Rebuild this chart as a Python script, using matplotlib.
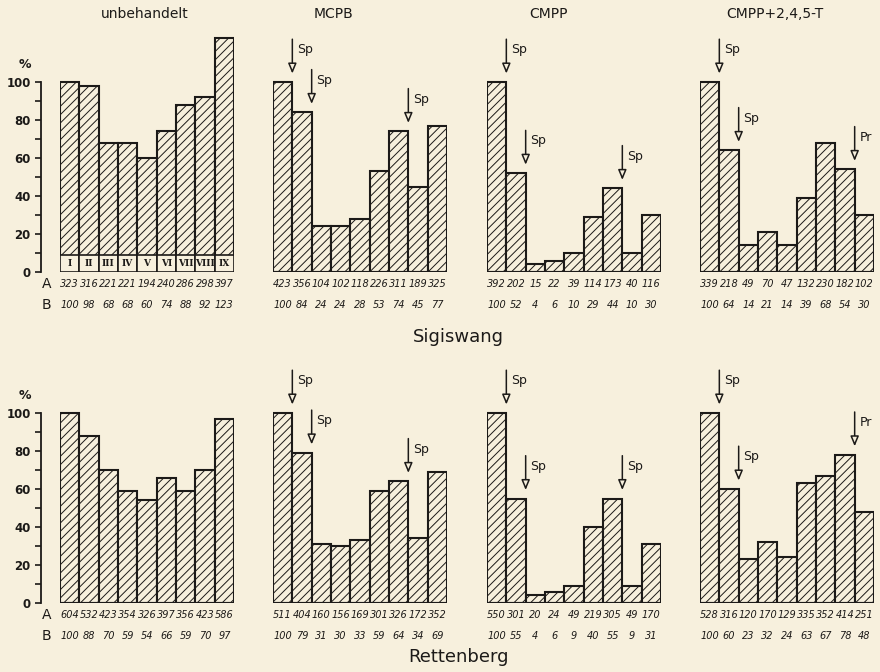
import matplotlib.pyplot as plt
import numpy as np

groups = ["unbehandelt", "MCPB", "CMPP", "CMPP+2,4,5-T"]
sites = ["Sigiswang", "Rettenberg"]
roman = ["I", "II", "III", "IV", "V", "VI", "VII", "VIII", "IX"]

# Sigiswang: A = Anzahl, B = Prozent
sig_A = [
    [323, 316, 221, 221, 194, 240, 286, 298, 397],
    [423, 356, 104, 102, 118, 226, 311, 189, 325],
    [392, 202, 15, 22, 39, 114, 173, 40, 116],
    [339, 218, 49, 70, 47, 132, 230, 182, 102],
]
sig_B = [
    [100, 98, 68, 68, 60, 74, 88, 92, 123],
    [100, 84, 24, 24, 28, 53, 74, 45, 77],
    [100, 52, 4, 6, 10, 29, 44, 10, 30],
    [100, 64, 14, 21, 14, 39, 68, 54, 30],
]
# Rettenberg
ret_A = [
    [604, 532, 423, 354, 326, 397, 356, 423, 586],
    [511, 404, 160, 156, 169, 301, 326, 172, 352],
    [550, 301, 20, 24, 49, 219, 305, 49, 170],
    [528, 316, 120, 170, 129, 335, 352, 414, 251],
]
ret_B = [
    [100, 88, 70, 59, 54, 66, 59, 70, 97],
    [100, 79, 31, 30, 33, 59, 64, 34, 69],
    [100, 55, 4, 6, 9, 40, 55, 9, 31],
    [100, 60, 23, 32, 24, 63, 67, 78, 48],
]
# Behandlungstermine (Balken-Index, Kürzel)
marks = [
    [],
    [(0, "Sp"), (1, "Sp"), (6, "Sp")],
    [(0, "Sp"), (1, "Sp"), (6, "Sp")],
    [(0, "Sp"), (1, "Sp"), (7, "Pr")],
]

paper = "#f7f0dd"
ink = "#1c1a18"
plt.rcParams["hatch.linewidth"] = 0.7
plt.rcParams["hatch.color"] = ink
plt.rcParams["font.family"] = "DejaVu Sans"

fig = plt.figure(figsize=(8.8, 6.72), dpi=100, facecolor=paper)

W, H = 880, 672
panel_x = [(60, 234), (273, 447), (487, 661), (700, 874)]
title_x = [145, 333, 548, 775]
row_y0 = [272, 603]      # pixel of 0 %
ppu = 1.9                # pixel per %
ytop = 127

site_data = [(sig_A, sig_B), (ret_A, ret_B)]
x = np.arange(9)

for r, (A, B) in enumerate(site_data):
    y0 = row_y0[r]
    for g in range(4):
        x0, x1 = panel_x[g]
        ax = fig.add_axes([x0 / W, 1 - y0 / H, (x1 - x0) / W, ytop * ppu / H])
        ax.set_facecolor("none")
        ax.bar(x, B[g], width=1.0, color=paper, edgecolor=ink, linewidth=1.5,
               hatch="////", zorder=2)
        ax.set_xlim(-0.5, 8.5)
        ax.set_ylim(0, ytop)
        for s in ["top", "right", "bottom"]:
            ax.spines[s].set_visible(False)
        ax.set_xticks([])
        if g == 0:
            ax.spines["left"].set_position(("outward", 14))
            ax.spines["left"].set_bounds(0, 100)
            ax.spines["left"].set_linewidth(1.3)
            ax.spines["left"].set_color(ink)
            ax.set_yticks(np.arange(0, 101, 20))
            ax.set_yticks(np.arange(10, 100, 20), minor=True)
            ax.tick_params(axis="y", which="both", length=4, width=1.2,
                           colors=ink, labelsize=8.5, pad=3)
            for lab in ax.get_yticklabels():
                lab.set_fontweight("bold")
            ax.text(-0.2, 109, "%", transform=ax.get_yaxis_transform(),
                    ha="center", va="center", fontsize=9, fontweight="bold",
                    color=ink)
            ax.text(-1.2, -6.5, "A", ha="center", va="center", fontsize=10,
                    color=ink)
            ax.text(-1.2, -17.5, "B", ha="center", va="center", fontsize=10,
                    color=ink)
        else:
            ax.spines["left"].set_visible(False)
            ax.set_yticks([])
        ax.axhline(0, color=ink, linewidth=1.5, zorder=3)

        for i in range(9):
            ax.text(x[i], -6.5, str(A[g][i]), ha="center", va="center",
                    fontsize=7, style="italic", color=ink, clip_on=False)
            ax.text(x[i], -17.5, str(B[g][i]), ha="center", va="center",
                    fontsize=7, style="italic", color=ink, clip_on=False)

        if r == 0 and g == 0:
            for i in range(9):
                ax.add_patch(plt.Rectangle((x[i] - 0.5, 0), 1.0, 9,
                                           facecolor=paper, edgecolor=ink,
                                           linewidth=1.2, zorder=3))
                ax.text(x[i], 4.5, roman[i], ha="center", va="center",
                        fontsize=6.5, fontweight="bold", family="DejaVu Serif",
                        color=ink, zorder=4)

        for i, lab in marks[g]:
            xa = x[i] + 0.5
            tip = B[g][i] + 3
            ax.annotate("", xy=(xa, tip), xytext=(xa, tip + 21),
                        arrowprops=dict(arrowstyle="-|>,head_length=0.6,head_width=0.25",
                                        lw=1.1, color=ink, fc=paper),
                        annotation_clip=False)
            ax.text(xa + 0.25, tip + 14, lab, ha="left", va="center",
                    fontsize=9, color=ink, clip_on=False)

        if r == 0:
            fig.text(title_x[g] / W, 1 - 14 / H, groups[g], ha="center",
                     va="center", fontsize=10, color=ink)

fig.text(458 / W, 1 - 337 / H, "Sigiswang", ha="center", va="center",
         fontsize=13, color=ink)
fig.text(458 / W, 1 - 657 / H, "Rettenberg", ha="center", va="center",
         fontsize=13, color=ink)

fig.savefig("out.png", dpi=100, facecolor=paper)
